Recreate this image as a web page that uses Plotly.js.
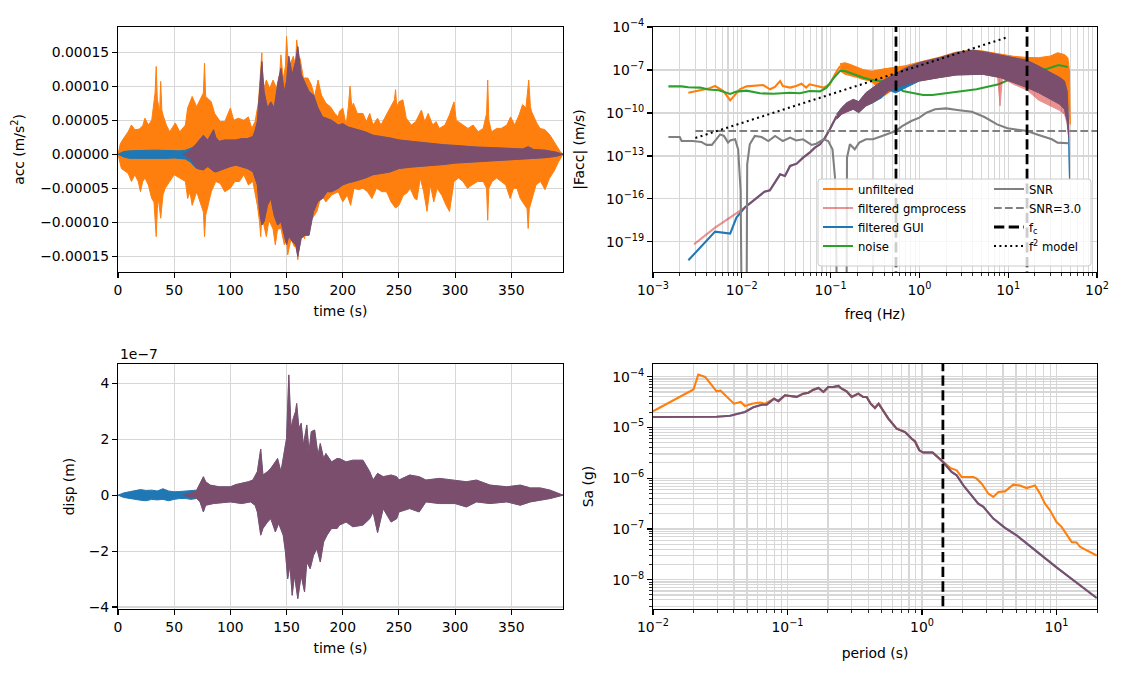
<!DOCTYPE html>
<html><head><meta charset="utf-8">
<script src="https://cdn.plot.ly/plotly-3.0.1.min.js"></script>
<style>body{margin:0;background:#fff}</style>
</head><body><div id="chart" style="width:1126px;height:687px"></div>
<script>
// ---------------- DATA ----------------
// Acceleration time series (values in units of 1e-5 m/s^2): read envelopes
const ACC_UNIT = 1e-5;
const accUnfUpT = [0,2,4,7,9,12,15,19,22,24,27,30,32,33,34,35,36,37,38,39,40,43,46,51,55,60,62,66,70,74,76,77,78,80,83,86,91,95,100,103,107,112,116,119,122,125,127,128,129,132,135,138,141,144,145,147,149,150,152,153,156,158,159,161,162,165,169,172,175,178,181,185,189,193,196,197,200,203,205,206.5,208,209.5,213,218,221,224,227,231,234,239,243,246,247,248,250,253.5,256.5,261,265,270,273,276,280,283,286,291,295,299,301,303,307,311.5,316,320.5,325,328,329,330,332.4,337,341,346,349.4,353,357,360,363,365.5,367,368,372.6,375.6,380,384.5,389,393.5,396];
const accUnfUp = [0,1.5,2.1,2.8,3.3,4.3,3.6,3.7,4.2,5.3,4.3,5.0,7.3,9,12.9,8,7.3,6,10.7,6.5,5.8,4.3,3.3,4.6,3.3,4.3,6.8,8.5,7.0,8.5,9,13.4,8.5,8.2,7.7,6.0,4.8,4.8,6.8,5.0,5.3,5.0,5.5,3.8,4.8,7.7,12,14.9,9.2,10.9,9.7,10.9,9.7,12,14.6,11,13,17.3,12,13.1,14.4,13,16.8,14.1,14.1,11.2,11.2,10.2,8.5,10.9,8.7,7.5,7.0,6.0,5.5,6.3,6.8,4.3,7,10,7,7.5,6.0,6.0,4.8,6.0,4.3,5.3,4.3,5.8,7.0,8,9.5,7,7.7,8.0,5.3,4.3,4.8,6.5,4.8,6.0,4.3,4.8,3.8,4.3,5.8,7.7,5,4.8,4.3,3.8,4.3,3.3,3.8,6,10.9,5,3.3,3.8,3.8,4.3,5.5,4.3,5.8,7.3,6.8,10.9,7,6.3,4.6,3.8,3.6,2.8,1.6,0.4,0];
const accUnfLoT = [0,3,6,9,12,15,18,20,22,24,27,30,32,34,35,36,38,40,42,46,50,55,60,62,64,66,70,74,76,77,78,80,83,87,91,95,100,104,108,112,116,120,124,126,127,128,130,132,134,135,138,140,142,145,148,150,151,154,157,159,160,162,163,166,170,173,177,181,185,190,196,200,204,207,210,214,218,222,226,230,235,239,243,247,250,254,257,260,264,266,269,272,275,278,281,284,288,292,295,299,303,307,311,315,320,325,328,329,330,333,337,341,345,349,352,355,358,362,364,365,366,368,372,376,380,384,388,392,396];
const accUnfLo = [0,-2.1,-2.5,-2.8,-4.0,-3.0,-4,-5.5,-4,-3.5,-4.5,-6.5,-7,-12.1,-8,-6.5,-9.4,-6,-5.0,-4.0,-3.0,-3.5,-4.0,-6.5,-5.5,-7.5,-5.5,-7.5,-8.5,-12.1,-9,-7.7,-5.5,-4.0,-4.3,-5.5,-5.0,-4.0,-4.0,-3.0,-4.5,-4.0,-7.5,-10,-12.1,-9,-10.4,-12.1,-10,-9.9,-11,-13.3,-11,-10.9,-13.3,-12.5,-14.8,-12.4,-13.6,-13,-15.5,-12,-11.4,-12.4,-8.4,-9.4,-8.4,-6.0,-7.0,-6.0,-5.5,-7.0,-6.0,-7.5,-5.0,-5.2,-5.0,-5.5,-6.5,-5.0,-5.5,-5.5,-7.0,-7.9,-7.5,-6.0,-5.7,-5.0,-6.5,-6.7,-3.5,-5.5,-8.4,-4.5,-7.0,-5.0,-6.0,-7.5,-8.4,-4.0,-3.5,-4.0,-5.0,-4.5,-4.0,-4.0,-5,-9.7,-5,-4.0,-3.5,-4.0,-4.5,-6.5,-5.0,-5.0,-6.5,-7.5,-8,-10.9,-8,-7.0,-4.5,-4.0,-5.2,-3.5,-2.5,-1.1,0];
// filtered record (common to GUI and gmprocess after ~70 s)
const accFiltT = [70,73,76,78,80,85,87,90,95,100,105,110,115,120,122,124,126,128,130,133,136,139,142,145,148,150,152,155,158,160,163,166,170,174,178,182,186,190,196,200,205,210,215,220,227,235,242,250,260,270,280,290,300,310,320,330,340,350,360,365,370,380,390,396];
const accFiltUp = [1.6,2.2,2.8,2.4,2.1,3.6,2.5,1.9,2.1,2.1,2.1,2.3,2.3,2.6,3.5,4.8,9.2,13.6,9.2,6.8,7.7,6.8,10.2,12.6,9.2,10.7,14.4,11.7,13.6,15.8,11.7,10.7,9.2,8.7,6.8,5.5,5.3,5.0,4.3,4.5,4.0,3.8,3.5,3.3,2.8,2.6,2.4,2.1,1.9,1.7,1.5,1.4,1.3,1.15,1.05,1.0,0.9,0.8,0.78,1.1,0.7,0.6,0.3,0];
const accFiltLo = [-2.06,-2.2,-2.3,-2.0,-1.8,-2.5,-2.6,-2.5,-2.1,-1.8,-1.6,-1.8,-2.1,-2.55,-3.5,-4.5,-8.4,-10.4,-9.9,-7.5,-6.5,-9.0,-10.4,-9.9,-11.9,-13.3,-12.0,-12.8,-13.3,-15.0,-12.4,-11.9,-11.9,-8.4,-6.9,-6.5,-5.5,-5.5,-5.0,-4.5,-4.2,-4.0,-3.8,-3.5,-3.0,-2.8,-2.6,-2.1,-1.9,-1.7,-1.6,-1.5,-1.3,-1.1,-1.0,-0.9,-0.85,-0.7,-0.6,-0.65,-0.6,-0.5,-0.3,0];
const accGuiPreT  = [0,5,10,15,20,25,30,35,40,45,50,55,60,65,68];
const accGuiPreUp = [0,0.4,0.5,0.55,0.6,0.55,0.6,0.6,0.55,0.6,0.55,0.5,0.6,0.9,1.2];
const accGuiPreLo = [0,-0.4,-0.6,-0.6,-0.65,-0.6,-0.7,-0.65,-0.6,-0.6,-0.55,-0.6,-0.7,-1.2,-1.8];
const accGmTaperT  = [58,62,66];
const accGmTaperUp = [0,0.3,0.8];
const accGmTaperLo = [0,-0.4,-1.0];

// Displacement (units of 1e-7 m)
const DISP_UNIT = 1e-7;
const dispUpT = [70,73,76,78,82,90,100,105,110,116,120,124,127,129,133,136,140,142,145,148,150,152,154,156,158,159,161,163,165,168,170,172,175,178,180,183,185,190,195,197,203,209,218,224,227,231,236,243,248,250,259.5,268,274,286,300,310,319,331,346,358,367,375.6,384.5,396];
const dispUp  = [0.18,0.42,0.66,0.48,0.36,0.3,0.3,0.38,0.42,0.48,0.54,0.84,1.65,0.72,0.84,0.96,1.19,1.31,0.84,1.55,2.03,4.30,2.39,2.75,2.99,3.28,2.39,2.57,1.79,2.51,1.55,2.27,2.33,1.43,1.85,1.31,1.49,1.19,1.31,1.31,1.19,1.25,1.25,0.84,0.54,0.78,0.66,0.72,0.66,0.54,0.72,0.66,0.54,0.6,0.54,0.48,0.54,0.36,0.3,0.36,0.26,0.26,0.18,0];
const dispLoT = [70,73,76,78,85,100,110,118,122,124,127,129,133,136,140,143,147,149,151,153,155,157,160,163,166,168,171,174,177,180,183,186,190,195,197,203,209,218,224,227,231,236,243,248,250,259.5,268,274,286,300,310,319,331,346,358,367,375.6,384.5,396];
const dispLo  = [-0.12,-0.24,-0.6,-0.36,-0.3,-0.24,-0.3,-0.24,-0.36,-0.6,-1.43,-1.19,-0.96,-0.84,-1.31,-1.01,-1.43,-2.03,-2.99,-2.51,-3.58,-2.87,-3.70,-2.87,-3.46,-2.39,-2.63,-2.15,-1.91,-2.39,-1.67,-1.43,-1.19,-1.19,-1.07,-0.96,-1.13,-1.07,-0.84,-0.6,-1.34,-0.48,-0.96,-0.84,-0.6,-0.48,-0.6,-0.24,-0.3,-0.3,-0.42,-0.24,-0.3,-0.24,-0.36,-0.24,-0.18,-0.12,0];
const dispGuiPreT  = [0,5,10,15,20,25,30,35,40,45,50,55,60,65];
const dispGuiPreUp = [0,0.08,0.12,0.15,0.2,0.17,0.18,0.15,0.23,0.15,0.12,0.13,0.15,0.18];
const dispGuiPreLo = [0,-0.08,-0.1,-0.15,-0.18,-0.2,-0.15,-0.17,-0.15,-0.2,-0.15,-0.12,-0.12,-0.15];
const dispGmTaperT  = [58,64];
const dispGmTaperUp = [0,0.06];
const dispGmTaperLo = [0,-0.05];

// Fourier amplitude spectra |Facc| (m/s)
const specUnfLineF = [0.0025,0.0032,0.0042,0.005,0.0062,0.0074,0.0095,0.0113,0.0174,0.0208,0.0236,0.027,0.029,0.035,0.041,0.047,0.053,0.058,0.069,0.083,0.098,0.112,0.128];
const specUnfLineA = [2.6e-9,3.4e-9,5.0e-9,7.6e-9,3.4e-9,7.6e-10,4.5e-9,7.2e-9,8.9e-9,4.5e-9,6.5e-9,1.7e-8,7.6e-9,5.9e-9,7.6e-9,1.1e-8,5.9e-9,1.0e-8,7.6e-9,5.9e-9,1.0e-8,5.0e-8,1.9e-7];
const specUnfBandF  = [0.128,0.145,0.165,0.2,0.23,0.28,0.3,0.4,0.54,0.7,1.0,1.7,2.6,4.0,5.2,8.1,11.5,16.3,22,30,36,43,47,49,50];
const specUnfBandUp = [2.75e-7,3.2e-7,2.5e-7,1.45e-7,1.1e-7,8.5e-8,8.5e-8,1.2e-7,1.5e-7,2.0e-7,3.6e-7,8e-7,1.8e-6,2.5e-6,2.1e-6,1.3e-6,9e-7,7.5e-7,7.2e-7,9.5e-7,1.6e-6,1.2e-6,7.2e-7,8.5e-8,1.6e-11];
const specUnfBandLo = [8.5e-8,5.0e-8,4.0e-8,3.0e-8,2.2e-8,1.7e-8,1.3e-8,1.55e-9,5.9e-9,1.0e-8,1.7e-8,3.0e-8,4.5e-8,5.0e-8,5.0e-8,3.0e-8,1.3e-8,5.9e-9,3.4e-9,1.55e-9,8.9e-10,5.2e-10,4.0e-10,8.1e-11,1.6e-11];
const specGuiLineF = [0.0025,0.0034,0.005,0.0074,0.0087,0.0108,0.0135,0.018,0.0207,0.027,0.0306,0.035,0.0415,0.049,0.058,0.0665,0.076,0.0866,0.098,0.117];
const specGuiLineA = [5.2e-21,4.0e-20,5.2e-19,3.8e-19,5.0e-18,2.5e-17,7.3e-17,3.2e-16,4.0e-16,5.2e-15,4.0e-15,2.0e-14,2.9e-14,7.6e-14,1.7e-13,3.8e-13,6.5e-13,1.9e-12,7.2e-12,6.2e-11];
const specGmLineF = [0.0029,0.005,0.0108];
const specGmLineA = [6.9e-20,1.0e-18,2.5e-17];
const specFiltBandF  = [0.117,0.133,0.152,0.18,0.207,0.25,0.30,0.38,0.54,0.71,1.0,1.7,2.6,4.0,5.2,8.1,11.5,16.3,21.9,30,38,43,46,48];
const specFiltBandUp = [8.1e-11,2.3e-10,5.2e-10,8.9e-10,6.2e-10,2.6e-9,5.9e-9,1.7e-8,5.5e-8,1.45e-7,3.2e-7,7.2e-7,1.6e-6,2.35e-6,1.9e-6,1.1e-6,7.2e-7,4.7e-7,1.9e-7,6.5e-8,3.0e-8,1.7e-8,3.4e-9,1.6e-11];
const specGuiLoF = [0.117,0.133,0.152,0.18,0.207,0.25,0.30,0.38,0.45,0.54,0.71,1.0,1.7,2.6,4.0,5.2,8.1,11.5,16.3,21.9,30,38,43,46,48,49];
const specGuiLo  = [3.6e-11,8.1e-11,1.2e-10,1.8e-10,1.05e-10,3.1e-10,5.2e-10,1.2e-9,4e-9,2.5e-9,6e-9,1.7e-8,3.0e-8,4.5e-8,5.0e-8,5.0e-8,3.0e-8,1.3e-8,5.9e-9,2.6e-9,8.9e-10,4.0e-10,1.8e-10,2.75e-11,1.9e-12,2.3e-15];
const specGmLoF = [0.117,0.133,0.152,0.18,0.207,0.25,0.30,0.38,0.54,0.71,1.0,1.7,2.6,4.0,5.2,7.6,8.1,8.6,11.5,16.3,21.9,30,38,43,46,48];
const specGmLo  = [3.6e-11,8.1e-11,1.2e-10,1.8e-10,1.05e-10,3.1e-10,5.2e-10,1.55e-9,5.9e-9,1.0e-8,1.7e-8,3.0e-8,4.5e-8,5.0e-8,5.0e-8,3.2e-8,3.1e-10,2.8e-8,1.0e-8,4.0e-9,8.0e-10,3.0e-10,1.5e-10,8.0e-11,2.0e-11,1.9e-12];
const specNoiseF = [0.00149,0.0021,0.0025,0.0034,0.0042,0.0055,0.0074,0.0087,0.0113,0.0135,0.016,0.0227,0.0294,0.035,0.0451,0.058,0.076,0.09,0.107,0.128,0.145,0.18,0.23,0.278,0.31,0.40,0.56,0.65,1.1,1.4,2.5,4.4,7.8,11.7,17.3,26,37,47];
const specNoise  = [7.2e-9,7.2e-9,6.2e-9,5.9e-9,4.3e-9,3.8e-9,2.1e-9,3.1e-9,3.6e-9,3.0e-9,2.35e-9,2.2e-9,2.6e-9,2.6e-9,2.35e-9,3.4e-9,3.2e-9,5.9e-9,2.5e-8,8.9e-8,8.5e-8,5.0e-8,3.0e-8,2.2e-8,1.9e-8,1.55e-8,7.6e-9,3.4e-9,1.8e-9,1.8e-9,3.0e-9,4.5e-9,1.0e-8,3.0e-8,8.5e-8,1.1e-7,2.2e-7,1.6e-7];
const specSnrF = [0.00149,0.002,0.0021,0.0028,0.0035,0.004,0.0046,0.0052,0.0057,0.0063,0.007,0.0074,0.0084,0.0091,0.0097,0.0100,0.0113,0.0115,0.0123,0.014,0.0167,0.0199,0.0237,0.029,0.035,0.041,0.049,0.061,0.069,0.083,0.094,0.105,0.113,0.119,0.151,0.153,0.165,0.187,0.21,0.25,0.30,0.38,0.45,0.54,0.64,0.81,1.0,1.2,1.5,2.0,2.8,3.9,5.4,7.5,9.8,16.3,22,31,36,45,48];
const specSnr  = [2.1e-12,2.1e-12,1.1e-12,1.1e-12,9.5e-13,5.9e-13,5.9e-13,1.45e-12,3.2e-12,2.5e-12,8.5e-13,1.2e-12,1.45e-12,2.9e-13,3.6e-16,1e-25,1e-25,2.6e-14,6.5e-13,2.5e-12,2.1e-12,1.1e-12,2.5e-12,1.1e-12,1.9e-12,1.2e-12,1.45e-12,5.9e-13,7.2e-13,1.45e-12,1.1e-12,2.9e-13,1.8e-15,1e-25,1e-25,7.6e-14,6.5e-13,2.9e-13,8.5e-13,1.45e-12,1.45e-12,2.5e-12,3.5e-12,5.5e-12,1.2e-11,2.75e-11,4.7e-11,1.05e-10,1.8e-10,2.1e-10,1.55e-10,1.2e-10,5.2e-11,1.6e-11,8.5e-12,5.5e-12,2.9e-12,1.45e-12,8.5e-13,7.6e-13,7.6e-13];
const snrThreshF = [0.003, 100];
const snrThresh  = [5.5e-12, 5.5e-12];
const f2ModelF = [0.003, 10];
const f2ModelA = [1.8e-12, 2.0e-5];
const fcFreqs = [0.545, 16.3];

// Response spectra Sa (g)
const saUnfT = [0.01,0.02,0.0217,0.0244,0.0273,0.0297,0.0318,0.0353,0.04,0.0449,0.0483,0.0542,0.0625,0.0681,0.0742,0.0794,0.0855,0.0958,0.1044,0.117,0.131,0.143,0.156,0.17,0.185,0.201,0.219,0.239,0.253,0.275,0.3,0.318,0.336,0.366,0.388,0.415,0.447,0.476,0.516,0.562,0.648,0.748,0.838,0.888,0.955,1.02,1.2,1.43,1.63,1.81,1.97,2.41,2.55,2.78,3.11,3.39,3.7,4.14,4.77,5.35,6.0,6.92,7.54,8.21,8.95,10.0,10.9,13.0,14.1,15.0,19.9];
const saUnf  = [2.08e-5,5.6e-5,1.1e-4,9.9e-5,6.8e-5,5.15e-5,5.3e-5,4.0e-5,2.94e-5,3.18e-5,2.65e-5,2.94e-5,3.1e-5,2.94e-5,3.3e-5,3.69e-5,3.3e-5,4.3e-5,4.17e-5,4.0e-5,4.63e-5,4.84e-5,5.55e-5,5.98e-5,5.0e-5,6.27e-5,6.27e-5,6.56e-5,5.8e-5,5.15e-5,3.98e-5,4.3e-5,4.63e-5,3.98e-5,3.98e-5,2.94e-5,2.42e-5,2.94e-5,2.17e-5,1.49e-5,9.46e-6,8.1e-6,6.0e-6,5.3e-6,3.55e-6,3.2e-6,3.2e-6,2.09e-6,1.58e-6,1.43e-6,1.06e-6,1.06e-6,9.8e-7,7.8e-7,4.97e-7,4.27e-7,5.36e-7,5.5e-7,7.46e-7,7.2e-7,6.4e-7,7.2e-7,4.97e-7,3.16e-7,2.33e-7,1.37e-7,1.1e-7,5.5e-8,5.4e-8,4.4e-8,3.0e-8];
const saFiltT = [0.01,0.0297,0.0374,0.0483,0.0557,0.0643,0.070,0.0742,0.0794,0.0855,0.0958,0.1044,0.117,0.131,0.143,0.156,0.17,0.185,0.201,0.219,0.239,0.253,0.275,0.3,0.318,0.336,0.366,0.388,0.415,0.447,0.476,0.516,0.562,0.648,0.748,0.838,0.888,0.955,1.02,1.2,1.43,1.66,1.81,2.03,2.62,2.86,3.39,4.14,5.05,10.0,19.9];
const saFilt  = [1.61e-5,1.63e-5,1.7e-5,2.02e-5,2.5e-5,2.81e-5,2.8e-5,3.18e-5,3.69e-5,3.3e-5,4.3e-5,4.17e-5,4.0e-5,4.63e-5,4.84e-5,5.55e-5,5.98e-5,5.0e-5,6.27e-5,6.27e-5,6.56e-5,5.8e-5,5.15e-5,3.98e-5,4.3e-5,4.63e-5,3.98e-5,3.98e-5,2.94e-5,2.42e-5,2.94e-5,2.17e-5,1.49e-5,9.46e-6,8.1e-6,6.0e-6,5.3e-6,3.55e-6,3.2e-6,3.2e-6,2.09e-6,1.33e-6,1.14e-6,7.25e-7,3.16e-7,2.72e-7,1.6e-7,1.05e-7,7.5e-8,1.75e-8,4.36e-9];
const saFcPeriod = [1.43];

// tick labels
const freqTickVals = [1e-3,1e-2,1e-1,1,10,100];
const freqTickText = ['10<sup>−3</sup>','10<sup>−2</sup>','10<sup>−1</sup>','10<sup>0</sup>','10<sup>1</sup>','10<sup>2</sup>'];
const faTickVals = [1e-19,1e-16,1e-13,1e-10,1e-7,1e-4];
const faTickText = ['10<sup>−19</sup>','10<sup>−16</sup>','10<sup>−13</sup>','10<sup>−10</sup>','10<sup>−7</sup>','10<sup>−4</sup>'];
const perTickVals = [1e-2,1e-1,1,10];
const perTickText = ['10<sup>−2</sup>','10<sup>−1</sup>','10<sup>0</sup>','10<sup>1</sup>'];
const saTickVals = [1e-8,1e-7,1e-6,1e-5,1e-4];
const saTickText = ['10<sup>−8</sup>','10<sup>−7</sup>','10<sup>−6</sup>','10<sup>−5</sup>','10<sup>−4</sup>'];
const dispTickVals = [-4e-7,-2e-7,0,2e-7,4e-7];
const dispTickText = ['−4','−2','0','2','4'];

// ---------------- STYLE / BUILD ----------------
const C = {orange:'#ff7f0e', blue:'#1f77b4', red:'#d62728', green:'#2ca02c', gray:'#808080', black:'#000000'};
const LW = 2.08;
const sc = (a, k) => a.map(v => v * k);

function band(xu, yu, xl, yl, color, xa, ya, extra) {
  return Object.assign({
    type:'scatter', mode:'lines',
    x: xu.concat(xl.slice().reverse()),
    y: yu.concat(yl.slice().reverse()),
    fill:'toself', fillcolor: color,
    line:{color: color, width: 1},
    xaxis: xa, yaxis: ya, showlegend:false, hoverinfo:'skip'
  }, extra || {});
}
function line(x, y, color, xa, ya, extra) {
  return Object.assign({type:'scatter', mode:'lines', x:x, y:y, line:{color:color, width:LW},
    xaxis:xa, yaxis:ya, showlegend:false, hoverinfo:'skip'}, extra || {});
}

const traces = [];
// --- top-left: acceleration
traces.push(band(accUnfUpT, sc(accUnfUp, ACC_UNIT), accUnfLoT, sc(accUnfLo, ACC_UNIT), C.orange, 'x', 'y'));
traces.push(band(accGuiPreT.concat(accFiltT), sc(accGuiPreUp.concat(accFiltUp), ACC_UNIT),
                 accGuiPreT.concat(accFiltT), sc(accGuiPreLo.concat(accFiltLo), ACC_UNIT), C.blue, 'x', 'y'));
traces.push(band(accGmTaperT.concat(accFiltT), sc(accGmTaperUp.concat(accFiltUp), ACC_UNIT),
                 accGmTaperT.concat(accFiltT), sc(accGmTaperLo.concat(accFiltLo), ACC_UNIT), C.red, 'x', 'y', {opacity:0.5}));
// --- bottom-left: displacement
traces.push(band(dispGuiPreT.concat(dispUpT), sc(dispGuiPreUp.concat(dispUp), DISP_UNIT),
                 dispGuiPreT.concat(dispLoT), sc(dispGuiPreLo.concat(dispLo), DISP_UNIT), C.blue, 'x3', 'y3'));
traces.push(band(dispGmTaperT.concat(dispUpT), sc(dispGmTaperUp.concat(dispUp), DISP_UNIT),
                 dispGmTaperT.concat(dispLoT), sc(dispGmTaperLo.concat(dispLo), DISP_UNIT), C.red, 'x3', 'y3', {opacity:0.5}));
// --- top-right: Fourier spectra
traces.push(line(specUnfLineF, specUnfLineA, C.orange, 'x2', 'y2', {name:'unfiltered', showlegend:true, legend:'legend', legendrank:1}));
traces.push(band(specUnfBandF, specUnfBandUp, specUnfBandF, specUnfBandLo, C.orange, 'x2', 'y2'));
traces.push(line(specNoiseF, specNoise, C.green, 'x2', 'y2', {name:'noise', showlegend:true, legend:'legend', legendrank:4}));
traces.push(line(specGuiLineF, specGuiLineA, C.blue, 'x2', 'y2', {name:'filtered GUI', showlegend:true, legend:'legend', legendrank:3}));
traces.push(band(specFiltBandF, specFiltBandUp, specGuiLoF, specGuiLo, C.blue, 'x2', 'y2'));
const gmStart = specGuiLineF.findIndex(f => f > specGmLineF[specGmLineF.length-1]);
traces.push(line(specGmLineF.concat(specGuiLineF.slice(gmStart)), specGmLineA.concat(specGuiLineA.slice(gmStart)), C.red, 'x2', 'y2',
                 {name:'filtered gmprocess', showlegend:true, legend:'legend', legendrank:2, opacity:0.5}));
traces.push(band(specFiltBandF, specFiltBandUp, specGmLoF, specGmLo, C.red, 'x2', 'y2', {opacity:0.5}));
traces.push(line(specSnrF, specSnr, C.gray, 'x2', 'y2', {name:'SNR', showlegend:true, legend:'legend2', legendrank:1}));
traces.push(line(snrThreshF, snrThresh, C.gray, 'x2', 'y2', {name:'SNR=3.0', showlegend:true, legend:'legend2', legendrank:2,
                 line:{color:C.gray, width:LW, dash:'7.7px,3.3px'}}));
traces.push(line([fcFreqs[0], fcFreqs[0], null, fcFreqs[1], fcFreqs[1]], [1e-30, 1, null, 1e-30, 1], C.black, 'x2', 'y2',
                 {name:'f<sub>c</sub>', showlegend:true, legend:'legend2', legendrank:3, line:{color:C.black, width:2.78, dash:'10.3px,4.4px'}}));
traces.push(line(f2ModelF, f2ModelA, C.black, 'x2', 'y2', {name:'f<sup>2</sup> model', showlegend:true, legend:'legend2', legendrank:4,
                 line:{color:C.black, width:LW, dash:'2px,3.4px'}}));
// --- bottom-right: response spectra
traces.push(line(saUnfT, saUnf, C.orange, 'x4', 'y4'));
traces.push(line(saFiltT, saFilt, C.blue, 'x4', 'y4'));
traces.push(line(saFiltT, saFilt, C.red, 'x4', 'y4', {opacity:0.5}));
traces.push(line([saFcPeriod[0], saFcPeriod[0]], [1e-12, 1], C.black, 'x4', 'y4', {line:{color:C.black, width:2.78, dash:'10.3px,4.4px'}}));

// ---------------- LAYOUT ----------------
const W = 1126, H = 687;
const FAMILY = 'DejaVu Sans, Verdana, sans-serif';
const FONT = {family:FAMILY, size:13.9, color:'#000'};
const TFONT = {family:FAMILY, size:13.9, color:'#000'};
const GRID = '#d7d7d7';
function minorLog(e0, e1) { const v = []; for (let e = e0; e < e1; e++) for (let m = 2; m <= 9; m++) v.push(m * Math.pow(10, e)); return v; }
function ax(extra) {
  return Object.assign({showline:true, mirror:true, linecolor:'#000', linewidth:1.1,
    ticks:'outside', ticklen:4.9, tickwidth:1.1, tickcolor:'#000',
    showgrid:true, gridcolor:GRID, gridwidth:1.1, zeroline:false, automargin:false,
    tickfont:{family:FAMILY, size:13.9, color:'#000'}}, extra);
}
const ttl = (text, standoff) => ({text:text, standoff:standoff, font:TFONT});
const minorStyle = (vals, grid) => ({tickmode:'array', tickvals:vals, ticks:'outside', ticklen:2.8, tickwidth:0.83, tickcolor:'#000', showgrid:grid, gridcolor:GRID, gridwidth:1.1});
const xL = [118/W, 563/W], xR = [653/W, 1097/W];
const yT = [1-272/H, 1-27/H], yB = [1-609/H, 1-364/H];

const fx0 = 818/W, fx1 = 1091/W, fy0 = 1-266/H, fy1 = 1-179/H, rx = 3/W, ry = 3/H;
const framePath = `M ${fx0+rx},${fy1} L ${fx1-rx},${fy1} Q ${fx1},${fy1} ${fx1},${fy1-ry} L ${fx1},${fy0+ry} Q ${fx1},${fy0} ${fx1-rx},${fy0} L ${fx0+rx},${fy0} Q ${fx0},${fy0} ${fx0},${fy0+ry} L ${fx0},${fy1-ry} Q ${fx0},${fy1} ${fx0+rx},${fy1} Z`;

const layout = {
  width:W, height:H, margin:{l:0,r:0,t:0,b:0}, paper_bgcolor:'#fff', plot_bgcolor:'#fff',
  font:FONT, hovermode:false,
  xaxis: ax({domain:xL, anchor:'y', range:[0,396], tick0:0, dtick:50, title:ttl('time (s)', 9)}),
  yaxis: ax({domain:yT, anchor:'x', range:[-0.000173,0.000187], tick0:0, dtick:0.00005, tickformat:'.5f', title:ttl('acc (m/s<sup>2</sup>)', 12)}),
  xaxis2: ax({domain:xR, anchor:'y2', type:'log', range:[-3,2], tickmode:'array', tickvals:freqTickVals, ticktext:freqTickText,
              minor:minorStyle(minorLog(-3,2), true), title:ttl('freq (Hz)', 12)}),
  yaxis2: ax({domain:yT, anchor:'x2', type:'log', range:[-21.1,-4], tickmode:'array', tickvals:faTickVals, ticktext:faTickText,
              title:ttl('|Facc| (m/s)', 18)}),
  xaxis3: ax({domain:xL, anchor:'y3', range:[0,396], tick0:0, dtick:50, title:ttl('time (s)', 9)}),
  yaxis3: ax({domain:yB, anchor:'x3', range:[-4.07e-7,4.69e-7], tickmode:'array', tickvals:dispTickVals, ticktext:dispTickText, title:ttl('disp (m)', 10)}),
  xaxis4: ax({domain:xR, anchor:'y4', type:'log', range:[-2,Math.log10(20)], tickmode:'array', tickvals:perTickVals, ticktext:perTickText,
              minor:minorStyle(minorLog(-2,2), true), title:ttl('period (s)', 14)}),
  yaxis4: ax({domain:yB, anchor:'x4', type:'log', range:[-8.577,-3.75], tickmode:'array', tickvals:saTickVals, ticktext:saTickText,
              minor:minorStyle(minorLog(-9,-3), true), title:ttl('Sa (g)', 14.5)}),
  legend: {x:818/W, xanchor:'left', y:1-174.5/H, yanchor:'top', bgcolor:'rgba(0,0,0,0)', borderwidth:0,
           font:{family:FAMILY, size:11.6, color:'#000'}, tracegroupgap:0},
  legend2: {x:989/W, xanchor:'left', y:1-174.5/H, yanchor:'top', bgcolor:'rgba(0,0,0,0)', borderwidth:0,
           font:{family:FAMILY, size:11.6, color:'#000'}, tracegroupgap:0},
  shapes: [{type:'path', xref:'paper', yref:'paper', path:framePath, fillcolor:'rgba(255,255,255,0.8)',
            line:{color:'#cccccc', width:1}, layer:'above'}],
  annotations: [{text:'1e−7', xref:'paper', yref:'paper', x:118/W, y:1-354/H, xanchor:'left', yanchor:'middle',
                 showarrow:false, font:{family:FAMILY, size:13.9, color:'#000'}}]
};

Plotly.newPlot('chart', traces, layout, {staticPlot:true, displayModeBar:false});
</script></body></html>
